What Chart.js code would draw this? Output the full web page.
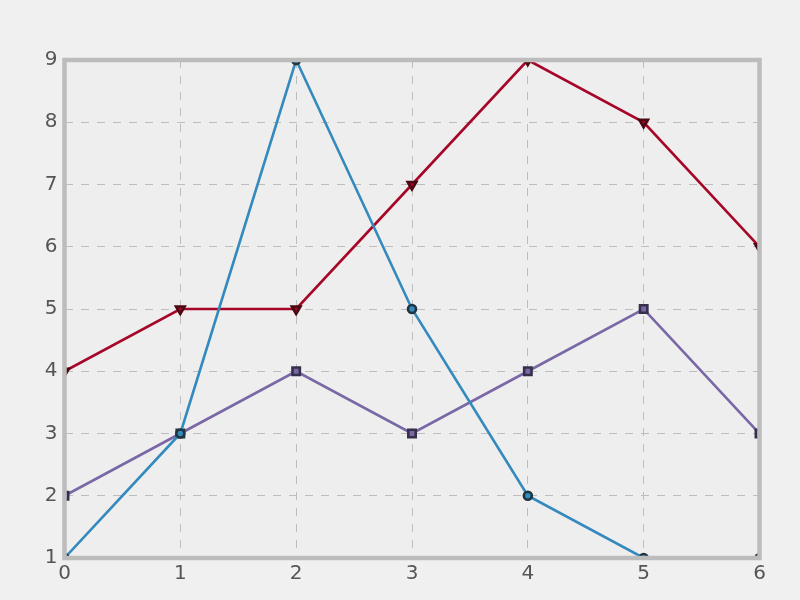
<!DOCTYPE html>
<html>
<head>
<meta charset="utf-8">
<script src="https://cdn.jsdelivr.net/npm/chart.js@4/dist/chart.umd.min.js"></script>
<style>
    html, body { margin: 0; padding: 0; background: #F0F0F0; }
    #wrap { width: 800px; height: 600px; }
</style>
</head>
<body>
<div id="wrap"><canvas id="chart" width="800" height="600"></canvas></div>
<script>
const xValues = [0, 1, 2, 3, 4, 5, 6];
const blueValues = [1, 3, 9, 5, 2, 1, 1];
const redValues = [4, 5, 5, 7, 9, 8, 6];
const purpleValues = [2, 3, 4, 3, 4, 5, 3];
const xTicks = [0, 1, 2, 3, 4, 5, 6];
const yTicks = [1, 2, 3, 4, 5, 6, 7, 8, 9];

function toPoints(values) {
    return values.map((v, i) => ({ x: xValues[i], y: v }));
}

// axes background + thick spines like matplotlib bmh
const frame = {
    id: 'frame',
    beforeDatasetsDraw(chart) {
        const a = chart.chartArea;
        const ctx = chart.ctx;
        ctx.save();
        ctx.globalCompositeOperation = 'destination-over';
        ctx.fillStyle = '#EEEEEE';
        ctx.fillRect(a.left, a.top, a.right - a.left, a.bottom - a.top);
        ctx.restore();
    },
    afterDatasetsDraw(chart) {
        const a = chart.chartArea;
        const ctx = chart.ctx;
        ctx.save();
        ctx.strokeStyle = '#BCBCBC';
        ctx.lineWidth = 4.5;
        ctx.strokeRect(a.left, a.top, a.right - a.left, a.bottom - a.top);
        ctx.restore();
    }
};

const ctx = document.getElementById('chart').getContext('2d');
new Chart(ctx, {
    type: 'line',
    data: {
        datasets: [{
            data: toPoints(blueValues),
            borderColor: '#348ABD',
            backgroundColor: '#348ABD',
            pointBorderColor: '#1f3440',
            pointStyle: 'circle',
            pointRadius: 4,
            borderWidth: 2.6
        }, {
            data: toPoints(redValues),
            borderColor: '#A60628',
            backgroundColor: '#A60628',
            pointBorderColor: '#4a0812',
            pointStyle: 'triangle',
            pointRotation: 180,
            pointRadius: 5,
            borderWidth: 2.6
        }, {
            data: toPoints(purpleValues),
            borderColor: '#7A68A6',
            backgroundColor: '#7A68A6',
            pointBorderColor: '#35304a',
            pointStyle: 'rect',
            pointRadius: 5.2,
            borderWidth: 2.6
        }]
    },
    options: {
        responsive: false,
        animation: false,
        events: [],
        layout: { padding: { top: 60, right: 40.5, left: 0, bottom: 0 } },
        elements: {
            line: { tension: 0 },
            point: { borderWidth: 0.8, hoverRadius: 0 }
        },
        datasets: { line: { clip: 0 } },
        plugins: {
            legend: { display: false },
            tooltip: { enabled: false }
        },
        scales: {
            x: {
                type: 'linear',
                min: 0,
                max: 6,
                afterBuildTicks: s => { s.ticks = xTicks.map(v => ({ value: v })); },
                afterFit: s => { s.height = 42; },
                ticks: {
                    color: '#555555',
                    font: { family: 'DejaVu Sans', size: 20 },
                    padding: 4,
                    maxRotation: 0
                },
                grid: {
                    color: '#BDBDBD',
                    lineWidth: 1,
                    drawTicks: false
                },
                border: { display: false, dash: [8, 8] }
            },
            y: {
                type: 'linear',
                min: 1,
                max: 9,
                afterBuildTicks: s => { s.ticks = yTicks.map(v => ({ value: v })); },
                afterFit: s => { s.width = 64.5; },
                ticks: {
                    color: '#555555',
                    font: { family: 'DejaVu Sans', size: 20 },
                    padding: 7
                },
                grid: {
                    color: '#BDBDBD',
                    lineWidth: 1,
                    drawTicks: false
                },
                border: { display: false, dash: [8, 8] }
            }
        }
    },
    plugins: [frame]
});
</script>
</body>
</html>
